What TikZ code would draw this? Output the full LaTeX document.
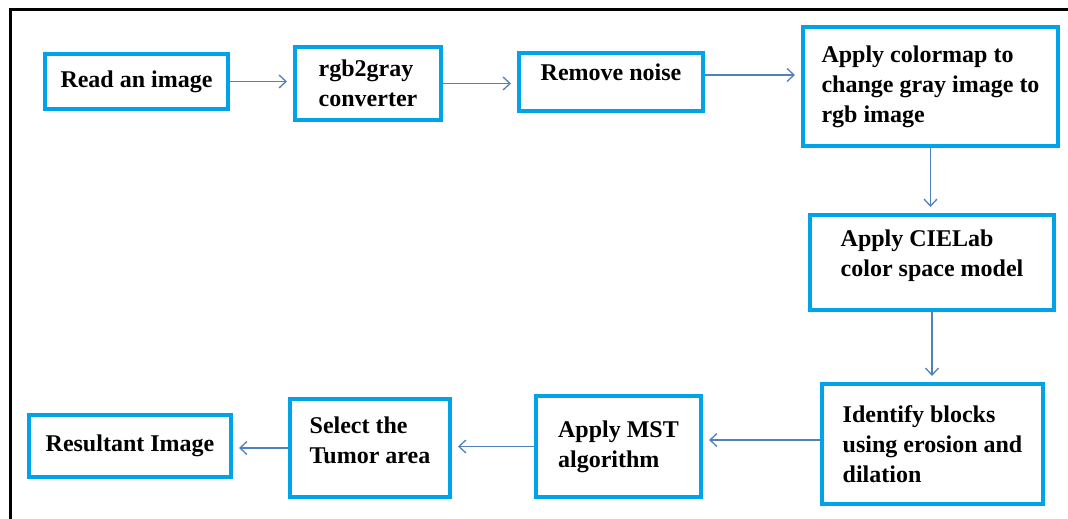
\documentclass[tikz,border=0pt]{standalone}
\usepackage{fontspec}
\setmainfont{Liberation Serif}
\usetikzlibrary{arrows.meta}
\definecolor{boxblue}{RGB}{0,162,232}
\definecolor{arrowblue}{RGB}{79,129,189}
\begin{document}
\begin{tikzpicture}[x=1pt, y=-1pt,
		stage/.style={draw=boxblue, line width=4pt, align=left, inner sep=0pt, font=\fontsize{24}{30}\selectfont\bfseries},
		flow/.style={draw=arrowblue, line width=1.3pt, -{Straight Barb[length=7pt,width=13pt]}, shorten >=6pt}]
		\useasboundingbox (0,0) rectangle (1068,519);
		%frame
		\draw[line width=3pt] (10,519) -- (10,10) -- (1068,10);
		
		%top row
		\node (read) at (136.5,81.5) [stage, minimum width=183pt, minimum height=55pt]{Read an image};
		\node (gray) at (368,83.5) [stage, minimum width=146pt, minimum height=73pt]{rgb2gray\\converter};
		\node (noise) at (611,82) [stage, minimum width=184pt, minimum height=58pt, text depth=19pt]{Remove noise};
		\node (cmap) at (930.5,86.5) [stage, minimum width=255pt, minimum height=119pt]{Apply colormap to\\change gray image to\\rgb image};
		
		%right column
		\node (cielab) at (932,262.5) [stage, minimum width=244pt, minimum height=95pt, text depth=18pt]{Apply CIELab\\color space model};
		\node (blocks) at (932.5,444) [stage, minimum width=221pt, minimum height=120pt]{Identify blocks\\using erosion and\\dilation};
		
		%bottom row
		\node (mst) at (618.5,446.5) [stage, minimum width=165pt, minimum height=101pt]{Apply MST\\algorithm};
		\node (tumor) at (370,448) [stage, minimum width=160pt, minimum height=98pt, text depth=16pt]{Select the\\Tumor area};
		\node (result) at (130,446) [stage, minimum width=202pt, minimum height=62pt]{Resultant Image};
		
		%connectors
		\draw[flow] (read.east) -- (read.east -| gray.west);
		\draw[flow] (gray.east) -- (gray.east -| noise.west);
		\draw[flow] ([yshift=7pt]noise.east) -- ([yshift=7pt]noise.east -| cmap.west);
		\draw[flow] (cmap.south) -- (cmap.south |- cielab.north);
		\draw[flow] (cielab.south) -- (cielab.south |- blocks.north);
		\draw[flow] ([yshift=4pt]blocks.west) -- ([yshift=4pt]blocks.west -| mst.east);
		\draw[flow] (mst.west) -- (mst.west -| tumor.east);
		\draw[flow] (tumor.west) -- (tumor.west -| result.east);
\end{tikzpicture}
\end{document}
